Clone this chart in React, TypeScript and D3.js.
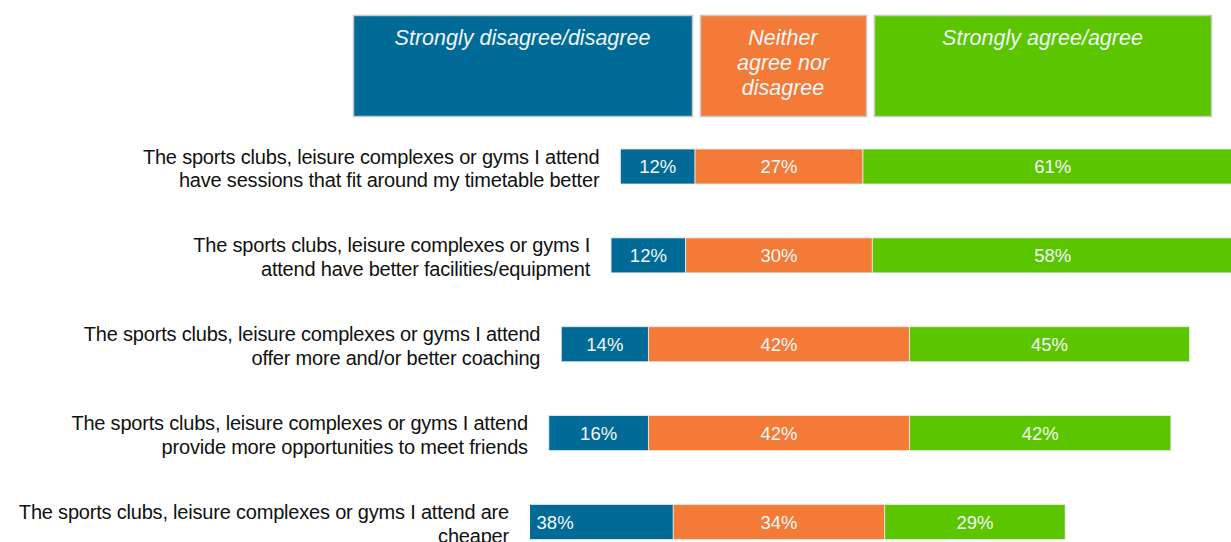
import React, { useEffect, useRef } from "react";
import * as d3 from "d3";

// statements, one bar each (label split on two lines)
const statements: string[][] = [
  ["The sports clubs, leisure complexes or gyms I attend", "have sessions that fit around my timetable better"],
  ["The sports clubs, leisure complexes or gyms I", "attend have better facilities/equipment"],
  ["The sports clubs, leisure complexes or gyms I attend", "offer more and/or better coaching"],
  ["The sports clubs, leisure complexes or gyms I attend", "provide more opportunities to meet friends"],
  ["The sports clubs, leisure complexes or gyms I attend are", "cheaper"],
];

const disagree = [12, 12, 14, 16, 38];
const neither = [27, 30, 42, 42, 34];
const agree = [61, 58, 45, 42, 29];

const seriesNames = ["Strongly disagree/disagree", "Neither agree nor disagree", "Strongly agree/agree"];
const seriesColors = ["#016a96", "#f47a38", "#5bc500"];

const W = 1231;
const H = 542;

function drawChart(node: SVGSVGElement) {
  const svg = d3.select(node);
  svg.selectAll("*").remove();

  const center = 779;
  const pxPerPct = 6.22;
  const x = d3.scaleLinear()
    .domain([-100, 100])
    .range([center - 100 * pxPerPct, center + 100 * pxPerPct]);

  const idx = statements.map((d, i) => i);
  const y = d3.scalePoint<number>()
    .domain(idx)
    .range([166.5, 522]);
  const barH = 35;

  const plotLeft = 530;

  // legend boxes at the top
  const legend = [
    { x0: 353, x1: 692, lines: ["Strongly disagree/disagree"] },
    { x0: 700, x1: 866, lines: ["Neither", "agree nor", "disagree"] },
    { x0: 874, x1: 1211, lines: ["Strongly agree/agree"] },
  ];
  const lg = svg.append("g");
  legend.forEach((d, i) => {
    lg.append("rect")
      .attr("x", d.x0 + 0.5)
      .attr("y", 15.5)
      .attr("width", d.x1 - d.x0)
      .attr("height", 101)
      .attr("fill", seriesColors[i])
      .attr("stroke", "#c8c8c8")
      .attr("stroke-width", 1.5);
    const t = lg.append("text")
      .attr("text-anchor", "middle")
      .attr("font-family", "Liberation Sans, Arial, sans-serif")
      .attr("font-style", "italic")
      .attr("font-size", 21.5)
      .attr("fill", "#eef6f8")
      .attr("aria-label", seriesNames[i]);
    d.lines.forEach((l, j) => {
      t.append("tspan")
        .attr("x", (d.x0 + d.x1) / 2)
        .attr("y", 45 + j * 25)
        .text(l);
    });
  });

  svg.append("defs").append("clipPath")
    .attr("id", "plot-clip")
    .append("rect")
    .attr("x", plotLeft)
    .attr("y", 0)
    .attr("width", W - plotLeft)
    .attr("height", H);

  // segments centred on the middle of the neutral part
  const rows = idx.map(i => {
    const n0 = -neither[i] / 2;
    const n1 = neither[i] / 2;
    return {
      i,
      segs: [
        { s: 0, from: n0 - disagree[i], to: n0, v: disagree[i] },
        { s: 1, from: n0, to: n1, v: neither[i] },
        { s: 2, from: n1, to: n1 + agree[i], v: agree[i] },
      ],
    };
  });

  const bars = svg.append("g").attr("clip-path", "url(#plot-clip)");
  rows.forEach(r => {
    bars.selectAll(null)
      .data(r.segs)
      .enter().append("rect")
      .attr("x", d => x(d.from))
      .attr("y", (y(r.i) as number) - barH / 2)
      .attr("width", d => x(d.to) - x(d.from))
      .attr("height", barH)
      .attr("fill", d => seriesColors[d.s])
      .attr("stroke", "#e4ecef")
      .attr("stroke-width", 0.8);
  });

  const vals = svg.append("g")
    .attr("font-family", "Liberation Sans, Arial, sans-serif")
    .attr("font-size", 18.5)
    .attr("fill", "#f4f8f8")
    .attr("text-anchor", "middle");
  rows.forEach(r => {
    vals.selectAll(null)
      .data(r.segs)
      .enter().append("text")
      .attr("x", d => (x(d.from) + x(d.to)) / 2)
      .attr("y", (y(r.i) as number) + 6.5)
      .text(d => d.v + "%");
  });

  // statement labels, right aligned just left of each visible bar
  const labels = svg.append("g")
    .attr("font-family", "Liberation Sans, Arial, sans-serif")
    .attr("font-size", 20)
    .attr("letter-spacing", -0.2)
    .attr("fill", "#111111")
    .attr("text-anchor", "end");
  rows.forEach(r => {
    const start = Math.max(x(r.segs[0].from), plotLeft);
    const t = labels.append("text");
    statements[r.i].forEach((l, j) => {
      t.append("tspan")
        .attr("x", start - 21)
        .attr("y", (y(r.i) as number) - 3 + j * 23.5)
        .text(l);
    });
  });
}

export default function App() {
  const ref = useRef<SVGSVGElement>(null);
  useEffect(() => {
    if (ref.current) drawChart(ref.current);
  }, []);
  return (
    <svg
      ref={ref}
      width={W}
      height={H}
      style={{ position: "absolute", left: 0, top: 0, display: "block", background: "#fff" }}
    />
  );
}
